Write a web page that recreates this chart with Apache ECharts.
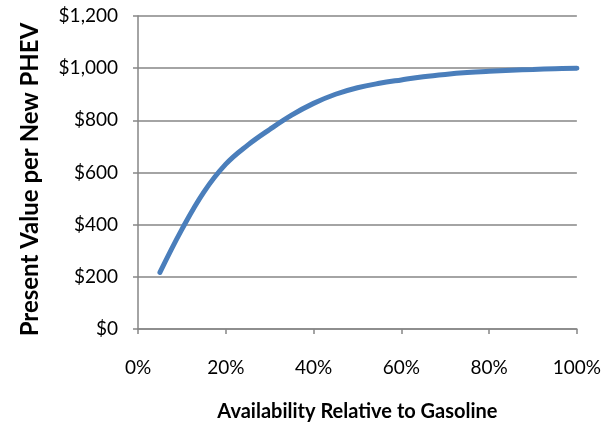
<!DOCTYPE html>
<html>
<head>
<meta charset="utf-8">
<script src="https://cdn.jsdelivr.net/npm/echarts@6/dist/echarts.min.js"></script>
<style>
html,body{margin:0;padding:0;background:#fff;}
#c{width:604px;height:427px;}
</style>
</head>
<body>
<div id="c"></div>
<script>
// Availability relative to gasoline (%)
const availability = [5, 10, 15, 20, 25, 30, 35, 40, 45, 50, 55, 60, 65, 70, 75, 80, 85, 90, 95, 100];
// Present value per new PHEV ($)
const presentValue = [217, 382, 525, 632, 705, 765, 820, 865, 900, 925, 942, 955, 967, 976, 983, 988, 992, 995, 998, 1000];
const xTicks = [0, 20, 40, 60, 80, 100];
const yTicks = [0, 200, 400, 600, 800, 1000, 1200];

const FONT = 'Lato';
const chart = echarts.init(document.getElementById('c'), null, {renderer: 'canvas'});
const data = availability.map((a, i) => [a, presentValue[i]]);
const fmtMoney = v => '$' + v.toLocaleString('en-US');

chart.setOption({
  animation: false,
  backgroundColor: '#ffffff',
  grid: {left: 138, right: 26, top: 16, bottom: 96, containLabel: false},
  xAxis: {
    type: 'value',
    min: xTicks[0], max: xTicks[xTicks.length - 1], interval: 20,
    name: 'Availability Relative to Gasoline',
    nameLocation: 'middle', nameGap: 73,
    nameTextStyle: {fontFamily: FONT, fontWeight: 'bold', fontSize: 20, color: '#000'},
    axisLine: {show: true, lineStyle: {color: '#868686', width: 1.5}},
    axisTick: {show: true, inside: false, length: 5, lineStyle: {color: '#868686', width: 1.5}},
    axisLabel: {formatter: v => v + '%', margin: 29, fontFamily: FONT, fontSize: 19, color: '#000'},
    splitLine: {show: false}
  },
  yAxis: {
    type: 'value',
    min: yTicks[0], max: yTicks[yTicks.length - 1], interval: 200,
    name: 'Present Value per New PHEV',
    nameLocation: 'middle', nameGap: 96, nameRotate: 90,
    nameTextStyle: {fontFamily: FONT, fontWeight: 'bold', fontSize: 24, color: '#000', padding: [0, 14, 0, 0]},
    axisLine: {show: true, lineStyle: {color: '#868686', width: 1.5}},
    axisTick: {show: true, inside: false, length: 5, lineStyle: {color: '#868686', width: 1.5}},
    axisLabel: {formatter: fmtMoney, margin: 20, fontFamily: FONT, fontSize: 19, color: '#000'},
    splitLine: {show: true, lineStyle: {color: '#868686', width: 1.5}}
  },
  series: [{
    type: 'line',
    data: data,
    smooth: 0.4,
    showSymbol: false,
    lineStyle: {color: '#4a7ebb', width: 5, cap: 'round'},
    itemStyle: {color: '#4a7ebb'}
  }]
});
</script>
</body>
</html>
